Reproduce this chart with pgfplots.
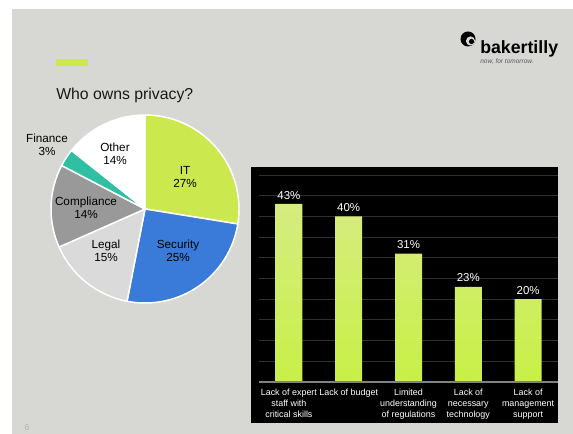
\documentclass[border=0pt]{standalone}
\usepackage{pgfplots}
\pgfplotsset{compat=1.18}
\usepackage{pgfplotstable}
\usepackage{fontspec}
\setmainfont{Liberation Sans}

\definecolor{slidebg}{RGB}{215,215,211}
\definecolor{lime}{RGB}{203,233,79}
\definecolor{barTop}{RGB}{214,236,128}
\definecolor{barBot}{RGB}{200,240,70}
\definecolor{gridc}{RGB}{48,48,48}
\definecolor{basec}{RGB}{130,130,130}
% pie colours, one per row of the table
\definecolor{pie0}{RGB}{203,233,79}
\definecolor{pie1}{RGB}{58,122,216}
\definecolor{pie2}{RGB}{218,218,218}
\definecolor{pie3}{RGB}{153,153,153}
\definecolor{pie4}{RGB}{47,192,163}
\definecolor{pie5}{RGB}{255,255,255}

\pgfplotstableread{
label value
IT 27
Security 25
Legal 15
Compliance 14
Finance 3
Other 14
}\piedata

\pgfplotstableread{
x value
0 43
1 40
2 31
3 23
4 20
}\bardata

\begin{document}
\begin{tikzpicture}[x=0.75pt,y=0.75pt]
\path[use as bounding box] (0,0) rectangle (573,434);
\fill[white] (0,0) rectangle (573,434);
\fill[slidebg] (12,0) rectangle (573,425);

% header
\fill[lime] (56,368) rectangle (88,375);
\node[anchor=base west, inner sep=0pt, text=black!90, font=\fontsize{11.85}{14}\selectfont] at (56,334.5) {Who owns privacy?};
\node[anchor=base west, inner sep=0pt, font=\fontsize{13.3}{15}\selectfont\bfseries] at (480,380) {bakertilly};
\node[anchor=base west, inner sep=0pt, text=black!65, font=\fontsize{4.9}{6}\selectfont\itshape] at (480,370) {now, for tomorrow.};
\fill[black] (468,395) circle (7.5);
\fill[slidebg] (470.5,393) circle (4.6);
\fill[black] (471.5,392.5) circle (2.6);
\node[text=black!30, font=\fontsize{6.5}{8}\selectfont] at (27,6) {6};

% pie, centre at (145,225) px = (108.75pt,168.75pt)
\begin{axis}[at={(108.75pt,168.75pt)}, anchor=center, scale only axis,
  width=141pt, height=141pt, xmin=-1, xmax=1, ymin=-1, ymax=1,
  hide axis, clip=false]
  \pgfplotstablegetrowsof{\piedata}\pgfmathtruncatemacro\nlast{\pgfplotsretval-1}
  \gdef\pietotal{0}
  \pgfplotsforeachungrouped \i in {0,...,\nlast}{%
    \pgfplotstablegetelem{\i}{value}\of\piedata
    \pgfmathsetmacro\tmpsum{\pietotal+\pgfplotsretval}\global\let\pietotal\tmpsum}
  \gdef\angA{90}
  \pgfplotsforeachungrouped \i in {0,...,\nlast}{%
    \pgfplotstablegetelem{\i}{value}\of\piedata
    \pgfmathsetmacro\angB{\angA-\pgfplotsretval*360/\pietotal}
    \edef\tmp{\noexpand\fill[fill=pie\i, draw=white, line width=1.1pt, line join=round]
      (axis cs:0,0) -- ([shift={(\angA:70.5pt)}]axis cs:0,0)
      arc[start angle=\angA, end angle=\angB, radius=70.5pt] -- cycle;}
    \tmp
    \global\let\angA\angB}
\end{axis}

\begin{scope}[every node/.style={align=center, font=\fontsize{8.8}{9.4}\selectfont}]
\node at (185,257) {IT\\27\%};
\node at (178,183) {Security\\25\%};
\node at (106,183) {Legal\\15\%};
\node at (86,226) {Compliance\\14\%};
\node at (115,280) {Other\\14\%};
\node at (47,289) {Finance\\3\%};
\end{scope}

% bar chart, origin at (259,52) px = (194.25pt,39pt)
\fill[black] (251,11) rectangle (558,267);
\begin{axis}[at={(194.25pt,39pt)}, anchor=south west, scale only axis,
  width=224.25pt, height=155.25pt,
  xmin=-0.5, xmax=4.5, ymin=0, ymax=50,
  ybar, bar width=20.25pt,
  axis line style={draw=none},
  major tick length=0pt,
  ytick={0,5,...,50}, yticklabels={},
  ymajorgrids, grid style={color=gridc, line width=0.75pt},
  xtick=data,
  xticklabels={{Lack of expert\\staff with\\critical skills},{Lack of budget},
    {Limited\\understanding\\of regulations},{Lack of\\necessary\\technology},
    {Lack of\\management\\support}},
  xticklabel style={text=white, align=center, anchor=north, inner sep=0pt,
    yshift=-5.25pt, font=\fontsize{6.7}{8.25}\selectfont},
  /pgf/number format/assume math mode=true,
  nodes near coords={\pgfmathprintnumber{\pgfplotspointmeta}\%},
  every node near coord/.append style={text=white, font=\fontsize{8.6}{10}\selectfont},
  clip=false]
  \addplot[draw=none, top color=barTop, bottom color=barBot] table[x=x, y=value] {\bardata};
  \draw[basec, line width=0.8pt] (rel axis cs:0,0) -- (rel axis cs:1,0);
\end{axis}
\end{tikzpicture}
\end{document}
